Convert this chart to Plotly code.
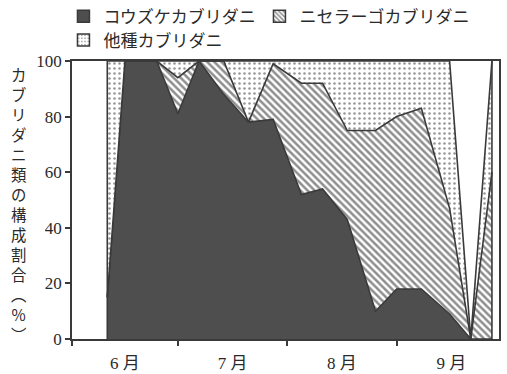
import plotly.graph_objects as go

# Sampling dates (survey days) and composition of predatory mites (%)
dates = [
    "2019-06-11", "2019-06-16", "2019-06-25", "2019-07-01", "2019-07-07",
    "2019-07-14", "2019-07-21", "2019-07-28", "2019-08-05", "2019-08-11",
    "2019-08-18", "2019-08-26", "2019-09-01", "2019-09-08", "2019-09-16",
    "2019-09-22", "2019-09-28",
]
kozuke = [15, 100, 100, 81, 100, 88, 78, 79, 52, 54, 43, 10, 18, 18, 9, 0, 0]
nisera = [0, 0, 0, 13, 0, 12, 0, 20, 40, 38, 32, 65, 62, 65, 38, 0, 60]
others = [85, 0, 0, 6, 0, 0, 22, 1, 8, 8, 25, 25, 20, 17, 53, 0, 40]

series_names = ["コウズケカブリダニ", "ニセラーゴカブリダニ", "他種カブリダニ"]
legend_of = ["legend", "legend2", "legend3"]
y_title = "カブリダニ類の構成割合︵%︶"
y_ticks = [0, 20, 40, 60, 80, 100]

FONT = "Liberation Serif, Noto Sans CJK JP, serif"
JP = "Noto Sans CJK JP"
INK = "#2a2a2a"
EDGE = "#3a3a3a"
DARK = "#4e4e4e"

styles = [
    dict(fillcolor=DARK, pattern=None),
    dict(fillcolor="white",
         pattern=dict(shape="\\", size=5, solidity=0.5, fgcolor="#1e1e1e",
                      bgcolor="white")),
    dict(fillcolor="white",
         pattern=dict(shape=".", size=5, solidity=0.2, fgcolor="#2e2e2e",
                      bgcolor="white")),
]

fig = go.Figure()

for name, vals, st, lg in zip(series_names, [kozuke, nisera, others],
                              styles, legend_of):
    kw = dict(fillpattern=st["pattern"]) if st["pattern"] else {}
    fig.add_trace(go.Scatter(
        x=dates, y=vals, stackgroup="one", mode="lines",
        line=dict(color=EDGE, width=1.6), fillcolor=st["fillcolor"],
        showlegend=False, legendgroup=name, hoverinfo="skip", **kw,
    ))
    # square swatch for the legend
    mk = dict(color=st["fillcolor"], line=dict(color=EDGE, width=1.5))
    if st["pattern"]:
        mk["pattern"] = dict(st["pattern"], size=4)
    fig.add_trace(go.Bar(x=[None], y=[None], name=name, marker=mk,
                         legendgroup=name, legend=lg))

# closing edges of the stacked area at the first and last survey
totals = [a + b + c for a, b, c in zip(kozuke, nisera, others)]
fig.add_trace(go.Scatter(
    x=[dates[0], dates[0], None, dates[-1], dates[-1]],
    y=[0, totals[0], None, 0, totals[-1]],
    mode="lines", line=dict(color=EDGE, width=1.6),
    showlegend=False, hoverinfo="skip",
))

# vertical (upright) axis title, one character per line
fig.add_annotation(
    text="<br>".join(y_title), xref="paper", yref="paper",
    x=-0.124, y=0.485, showarrow=False, xanchor="center", yanchor="middle",
    font=dict(size=15.4, family=JP, color=INK),
)

legend_common = dict(orientation="h", xanchor="left", yanchor="top",
                     font=dict(size=17, family=JP, color=INK),
                     bgcolor="rgba(0,0,0,0)", itemwidth=30,
                     traceorder="normal")

fig.update_layout(
    width=507, height=374,
    margin=dict(l=72, r=8, t=61, b=35, autoexpand=False),
    paper_bgcolor="white", plot_bgcolor="white",
    font=dict(family=FONT, size=17, color=INK),
    showlegend=True,
    legend=dict(legend_common, x=-0.02, y=1.224),
    legend2=dict(legend_common, x=0.439, y=1.224),
    legend3=dict(legend_common, x=-0.02, y=1.139),
    xaxis=dict(
        type="date", range=["2019-06-01", "2019-09-30"],
        tick0="2019-06-01", dtick="M1", ticklabelmode="period",
        tickformat="%-m 月", ticks="outside", ticklen=5, tickwidth=1.5,
        tickcolor=EDGE, showline=True, linecolor=EDGE, linewidth=1.5,
        mirror=True, showgrid=False, zeroline=False, automargin=False,
        ticklabelstandoff=3,
        tickfont=dict(size=17, family=FONT, color=INK),
    ),
    yaxis=dict(
        range=[0, 100], tickvals=y_ticks, ticks="outside", ticklen=5,
        tickwidth=1.5, tickcolor=EDGE, showline=True, linecolor=EDGE,
        linewidth=1.5, mirror=True, showgrid=False, zeroline=False,
        automargin=False,
        tickfont=dict(size=17, family=FONT, color=INK),
    ),
)

fig.write_html("out.html")
